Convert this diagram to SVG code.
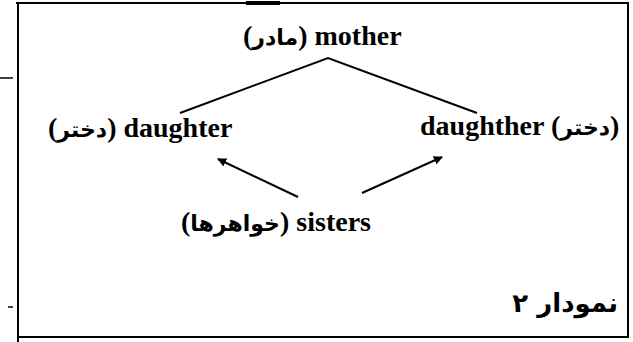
<svg xmlns="http://www.w3.org/2000/svg" width="633" height="342" viewBox="0 0 633 342">
<style>
.t{font-family:"Liberation Serif","DejaVu Serif",serif;font-size:28px;font-weight:bold;fill:#000}
.a{font-family:"DejaVu Sans",sans-serif;font-size:22px;font-weight:bold}
.cap{font-family:"DejaVu Sans",sans-serif;font-size:26px;font-weight:bold;fill:#000}
.ln{stroke:#000;stroke-width:2;fill:none}
.fr{stroke:#000;stroke-width:2;fill:none}
</style>
<defs>
<marker id="ah" viewBox="0 0 10 10" refX="9" refY="5" markerWidth="9" markerHeight="9" markerUnits="userSpaceOnUse" orient="auto">
<path d="M0,0 L10,5 L0,10 z" fill="#000"/>
</marker>
</defs>
<rect width="633" height="342" fill="#fff"/>
<g id="frame">
<line class="fr" x1="16" y1="3" x2="629" y2="3"/>
<line x1="246" y1="3" x2="280" y2="3" stroke="#000" stroke-width="4"/>
<line class="fr" x1="18" y1="4" x2="18" y2="342"/>
<line class="fr" x1="628" y1="3" x2="628" y2="338"/>
<line class="fr" x1="18" y1="337" x2="629" y2="337"/>
<line x1="0" y1="78" x2="13" y2="78" stroke="#000" stroke-width="1.5"/>
<line x1="8" y1="307" x2="13" y2="307" stroke="#000" stroke-width="1.5"/>
</g>
<g id="connectors">
<polyline class="ln" points="180,113 328,58 477,113"/>
<line class="ln" x1="298" y1="197" x2="218" y2="159" marker-end="url(#ah)"/>
<line class="ln" x1="362" y1="193" x2="442" y2="157" marker-end="url(#ah)"/>
</g>
<g id="mother">
<text class="t" x="243" y="45"><tspan>(</tspan><tspan class="a">مادر</tspan><tspan>) mother</tspan></text>
</g>
<g id="daughter-left">
<text class="t" x="48" y="137"><tspan>(</tspan><tspan class="a">دختر</tspan><tspan>) daughter</tspan></text>
</g>
<g id="daughter-right">
<text class="t" x="420" y="135"><tspan>daughther (</tspan><tspan class="a">دختر</tspan><tspan>)</tspan></text>
</g>
<g id="sisters">
<text class="t" x="181" y="231"><tspan>(</tspan><tspan class="a">خواهرها</tspan><tspan>) sisters</tspan></text>
</g>
<g id="caption">
<text class="cap" x="618" y="312" text-anchor="end">نمودار ۲</text>
</g>
</svg>
